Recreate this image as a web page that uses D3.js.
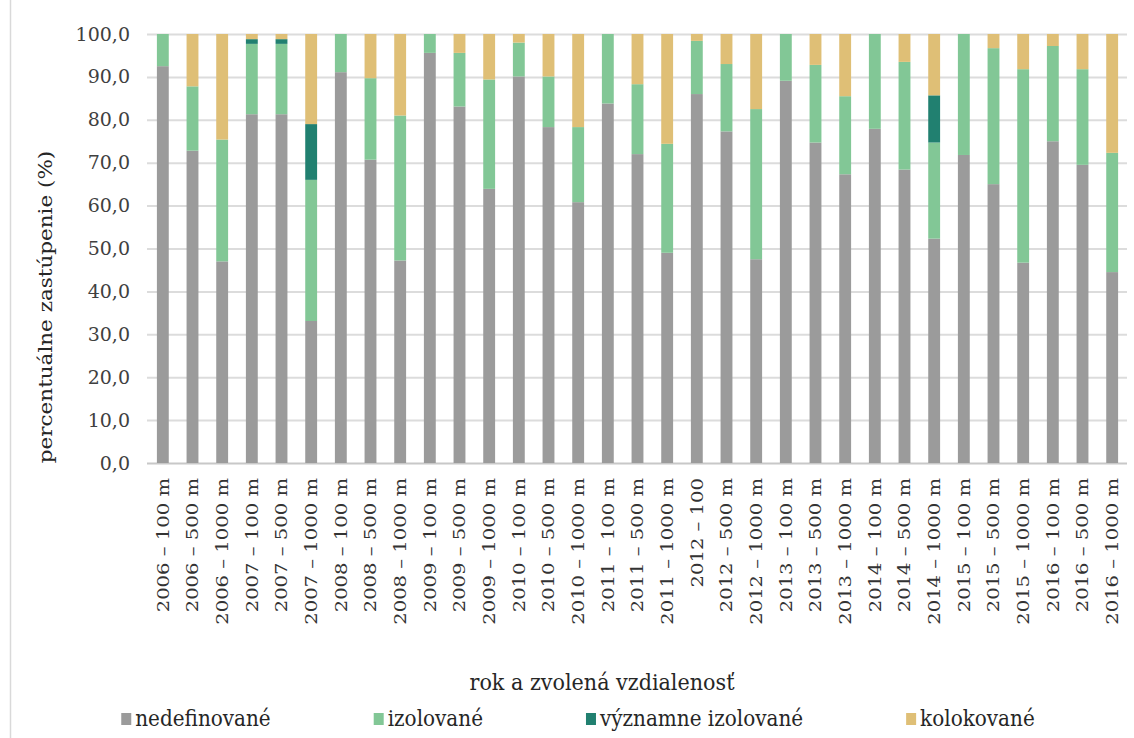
<!DOCTYPE html>
<html>
<head>
<meta charset="utf-8">
<script src="https://cdn.jsdelivr.net/npm/d3@7"></script>
<style>
  html, body { margin: 0; padding: 0; background: #fff; }
  svg { display: block; font-family: "DejaVu Serif", serif; }
</style>
</head>
<body>
<div id="chart"></div>
<script>
const categories = [
  "2006 – 100 m", "2006 – 500 m", "2006 – 1000 m",
  "2007 – 100 m", "2007 – 500 m", "2007 – 1000 m",
  "2008 – 100 m", "2008 – 500 m", "2008 – 1000 m",
  "2009 – 100 m", "2009 – 500 m", "2009 – 1000 m",
  "2010 – 100 m", "2010 – 500 m", "2010 – 1000 m",
  "2011 – 100 m", "2011 – 500 m", "2011 – 1000 m",
  "2012 – 100", "2012 – 500 m", "2012 – 1000 m",
  "2013 – 100 m", "2013 – 500 m", "2013 – 1000 m",
  "2014 – 100 m", "2014 – 500 m", "2014 – 1000 m",
  "2015 – 100 m", "2015 – 500 m", "2015 – 1000 m",
  "2016 – 100 m", "2016 – 500 m", "2016 – 1000 m"
];
const nedefinovane = [92.5, 72.8, 47.0, 81.3, 81.3, 33.1, 91.1, 70.7, 47.2, 95.6, 83.1, 63.9, 90.1, 78.3, 60.8, 83.8, 72.0, 49.0, 86.0, 77.3, 47.5, 89.1, 74.7, 67.3, 77.9, 68.4, 52.3, 71.8, 65.0, 46.7, 75.0, 69.5, 44.5];
const izolovane = [7.5, 15.0, 28.4, 16.4, 16.4, 32.9, 8.9, 19.0, 33.8, 4.4, 12.5, 25.5, 7.9, 11.8, 17.5, 16.2, 16.3, 25.4, 12.4, 15.7, 35.0, 10.9, 18.1, 18.2, 22.1, 25.1, 22.4, 28.2, 31.7, 45.1, 22.2, 22.3, 27.8];
const vyznamneIzolovane = [0, 0, 0, 1.1, 1.1, 13.0, 0, 0, 0, 0, 0, 0, 0, 0, 0, 0, 0, 0, 0, 0, 0, 0, 0, 0, 0, 0, 11.0, 0, 0, 0, 0, 0, 0];
const kolokovane = [0, 12.2, 24.6, 1.2, 1.2, 21.0, 0, 10.3, 19.0, 0, 4.4, 10.6, 2.0, 9.9, 21.7, 0, 11.7, 25.6, 1.6, 7.0, 17.5, 0, 7.2, 14.5, 0, 6.5, 14.3, 0, 3.3, 8.2, 2.8, 8.2, 27.7];
const yTicks = [0, 10, 20, 30, 40, 50, 60, 70, 80, 90, 100];

const series = [
  { key: "nedefinovane", label: "nedefinované", values: nedefinovane, color: "#9b9b9b" },
  { key: "izolovane", label: "izolované", values: izolovane, color: "#82c796" },
  { key: "vyznamne", label: "významne izolované", values: vyznamneIzolovane, color: "#218070" },
  { key: "kolokovane", label: "kolokované", values: kolokovane, color: "#dfbf76" }
];

const W = 1134, H = 738;
const margin = { left: 148, right: 7, top: 34, bottom: 275 };

const table = categories.map((c, i) => {
  const row = { cat: c };
  series.forEach(s => { row[s.key] = s.values[i]; });
  return row;
});

const svg = d3.select("#chart").append("svg")
  .attr("width", W)
  .attr("height", H);

svg.append("rect").attr("width", W).attr("height", H).attr("fill", "#fff");

// chart area border (only left edge visible)
svg.append("line")
  .attr("x1", 10.5).attr("x2", 10.5)
  .attr("y1", 0).attr("y2", H)
  .attr("stroke", "#d9d9d9")
  .attr("stroke-width", 1.5);

const x = d3.scaleBand()
  .domain(categories)
  .range([margin.left, W - margin.right])
  .paddingInner(0.6)
  .paddingOuter(0.3);

const y = d3.scaleLinear()
  .domain([0, 100])
  .range([H - margin.bottom, margin.top]);

const fmt = d3.formatLocale({ decimal: ",", thousands: " ", grouping: [3], currency: ["", ""] }).format(".1f");

// grid + y labels
const yAxis = svg.append("g")
  .attr("transform", `translate(${margin.left - 1},0)`)
  .call(d3.axisLeft(y)
    .tickValues(yTicks)
    .tickSize(-(W - margin.right - margin.left + 1))
    .tickPadding(17)
    .tickFormat(fmt));
yAxis.select(".domain").remove();
yAxis.selectAll(".tick line")
  .attr("stroke", d => d === 0 ? "#c8c8c8" : "#dcdcdc")
  .attr("stroke-width", 2);
yAxis.selectAll(".tick text")
  .attr("fill", "#404040")
  .style("font-size", "19px")
  .style("font-family", "DejaVu Serif, serif");

// bars
const stacked = d3.stack().keys(series.map(s => s.key))(table);
svg.append("g")
  .selectAll("g")
  .data(stacked)
  .join("g")
  .attr("fill", (d, i) => series[i].color)
  .selectAll("rect")
  .data(d => d)
  .join("rect")
  .attr("x", d => x(d.data.cat))
  .attr("width", x.bandwidth())
  .attr("y", d => y(d[1]))
  .attr("height", d => y(d[0]) - y(d[1]));

// x labels
const xAxis = svg.append("g")
  .attr("transform", `translate(0,${y(0)})`)
  .call(d3.axisBottom(x).tickSize(0).tickPadding(0));
xAxis.select(".domain").remove();
xAxis.selectAll(".tick text")
  .attr("y", 0)
  .attr("text-anchor", "end")
  .attr("fill", "#333")
  .style("font-size", "20px")
  .style("font-family", "DejaVu Serif, serif")
  .attr("transform", "translate(0,15) rotate(-90) scale(0.98,0.82)")
  .attr("dy", "0.36em");

// axis titles
svg.append("text")
  .attr("transform", `translate(45,307) rotate(-90) scale(1,0.9)`)
  .attr("text-anchor", "middle")
  .attr("dy", "0.35em")
  .attr("fill", "#262626")
  .style("font-size", "21.5px")
  .text("percentuálne zastúpenie (%)");

svg.append("text")
  .attr("transform", `translate(602,690) scale(0.9,1)`)
  .attr("text-anchor", "middle")
  .attr("fill", "#262626")
  .style("font-size", "23px")
  .text("rok a zvolená vzdialenosť");

// legend
const legend = svg.append("g");
const swatch = 10, gapText = 4, gapItem = 103;
let lx = 0;
series.forEach(s => {
  const item = legend.append("g").attr("transform", `translate(${lx},0)`);
  item.append("rect")
    .attr("x", 0).attr("y", -13)
    .attr("width", swatch).attr("height", 12)
    .attr("fill", s.color);
  const t = item.append("text")
    .attr("x", swatch + gapText)
    .attr("fill", "#262626")
    .attr("transform", "scale(1,1.08)")
    .style("font-size", "20px")
    .text(s.label);
  lx += swatch + gapText + t.node().getComputedTextLength() + gapItem;
});
const legendWidth = lx - gapItem;
legend.attr("transform", `translate(${578 - legendWidth / 2},726)`);
</script>
</body>
</html>
